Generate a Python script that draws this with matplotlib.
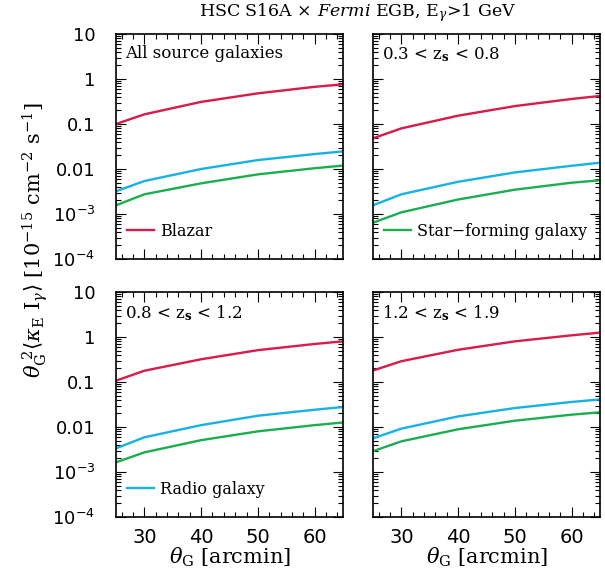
import numpy as np
import matplotlib
matplotlib.use('Agg')
import matplotlib.pyplot as plt
from matplotlib.ticker import FixedLocator, FixedFormatter, MultipleLocator, LogLocator, NullFormatter

plt.rcParams['font.family'] = 'DejaVu Serif'
plt.rcParams['mathtext.fontset'] = 'dejavuserif'

# theta_G [arcmin]
theta = [25, 30, 40, 50, 60, 65]

# panel labels
panels = ['All source galaxies',
          r'0.3 < z$_{\mathbf{s}}$ < 0.8',
          r'0.8 < z$_{\mathbf{s}}$ < 1.2',
          r'1.2 < z$_{\mathbf{s}}$ < 1.9']

# values, one list per panel
blazar = [
    [0.10, 0.164, 0.31, 0.48, 0.67, 0.76],
    [0.048, 0.080, 0.153, 0.25, 0.36, 0.42],
    [0.107, 0.178, 0.32, 0.51, 0.70, 0.80],
    [0.18, 0.29, 0.52, 0.80, 1.09, 1.25],
]
radio = [
    [3.2e-3, 5.4e-3, 0.010, 0.0158, 0.0215, 0.0246],
    [1.56e-3, 2.74e-3, 5.2e-3, 8.4e-3, 0.0118, 0.0138],
    [3.35e-3, 5.9e-3, 0.011, 0.0178, 0.0242, 0.0278],
    [5.6e-3, 9.2e-3, 0.0172, 0.0264, 0.036, 0.041],
]
starforming = [
    [1.56e-3, 2.74e-3, 4.8e-3, 7.6e-3, 0.0104, 0.0119],
    [6.4e-4, 1.09e-3, 2.1e-3, 3.47e-3, 4.96e-3, 5.6e-3],
    [1.64e-3, 2.73e-3, 5.1e-3, 8.0e-3, 0.011, 0.0126],
    [2.9e-3, 4.8e-3, 8.9e-3, 0.0138, 0.0188, 0.0212],
]

ytick_vals = [1e-4, 1e-3, 1e-2, 1e-1, 1, 10]
ytick_labels = [r'$\mathregular{10^{-4}}$', r'$\mathregular{10^{-3}}$', '0.01', '0.1', '1', '10']

c_red = '#d81b48'
c_blue = '#17b1e3'
c_green = '#1aae4f'

fig = plt.figure(figsize=(6.05, 5.73), dpi=100)
W, H = 605, 573
boxes = [(116, 34), (373, 34), (116, 292), (373, 292)]
axes = []
for (x0, y0) in boxes:
    ax = fig.add_axes([x0 / W, 1 - (y0 + 225) / H, 227 / W, 225 / H])
    axes.append(ax)

for i, ax in enumerate(axes):
    l1, = ax.plot(theta, blazar[i], color=c_red, lw=1.7)
    l2, = ax.plot(theta, radio[i], color=c_blue, lw=1.7)
    l3, = ax.plot(theta, starforming[i], color=c_green, lw=1.7)
    ax.set_yscale('log')
    ax.set_xlim(25, 65)
    ax.set_ylim(1e-4, 10)
    ax.yaxis.set_major_locator(FixedLocator(ytick_vals))
    ax.yaxis.set_minor_locator(LogLocator(base=10, subs=np.arange(2, 10)))
    ax.yaxis.set_minor_formatter(NullFormatter())
    ax.xaxis.set_major_locator(FixedLocator([30, 40, 50, 60]))
    ax.xaxis.set_minor_locator(MultipleLocator(2))
    ax.tick_params(which='both', direction='in', top=True, right=True, width=0.8)
    ax.tick_params(which='major', length=7)
    ax.tick_params(which='minor', length=3.5)
    if i % 2 == 0:
        ax.yaxis.set_major_formatter(FixedFormatter(ytick_labels))
        ax.tick_params(axis='y', labelsize=13, pad=15)
        for t in ax.get_yticklabels():
            t.set_family('DejaVu Sans')
    else:
        ax.set_yticklabels([])
    if i >= 2:
        ax.tick_params(axis='x', labelsize=14, pad=8)
        for t in ax.get_xticklabels():
            t.set_family('DejaVu Sans')
        ax.set_xlabel(r'$\theta_{\rm G}$ [arcmin]', fontsize=15, labelpad=-1)
    else:
        ax.set_xticklabels([])
    for s in ax.spines.values():
        s.set_linewidth(1.2)
    ax.text(0.04, 0.95, panels[i], transform=ax.transAxes, fontsize=12,
            ha='left', va='top')
    handle = [l1, l3, l2][i] if i < 3 else None
    label = ['Blazar', 'Star\u2212forming galaxy', 'Radio galaxy'][i] if i < 3 else None
    if handle is not None:
        ax.legend([handle], [label], loc='lower left', frameon=False, fontsize=11.5,
                  handlelength=1.7, handletextpad=0.35, borderaxespad=0.3,
                  bbox_to_anchor=(0.0, 0.035))

fig.text(358 / W, 1 - 13 / H, r'HSC S16A $\times$ $\it{Fermi}$ EGB, E$_\gamma$>1 GeV',
         ha='center', va='center', fontsize=12.5)
fig.text(35 / W, 1 - 240 / H,
         r'$\theta_{\rm G}^{\ 2}\langle\kappa_{\rm E}\ {\rm I}_\gamma\rangle$ [10$^{-15}$ cm$^{-2}$ s$^{-1}$]',
         rotation=90, ha='center', va='center', fontsize=15)

fig.savefig('out.png', dpi=100)
